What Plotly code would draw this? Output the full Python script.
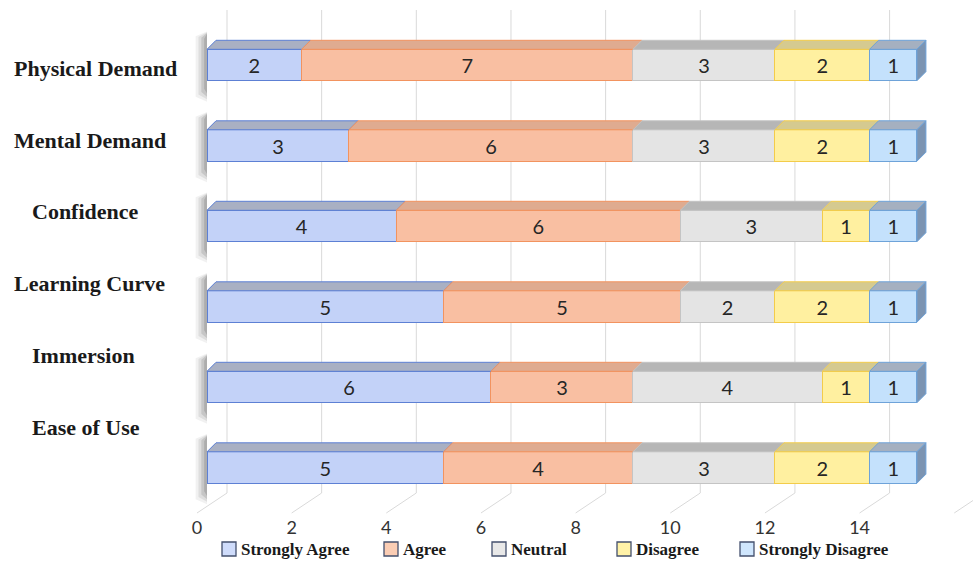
import plotly.graph_objects as go

# ---------------- data ----------------
categories = ["Physical Demand", "Mental Demand", "Confidence",
              "Learning Curve", "Immersion", "Ease of Use"]
series_names = ["Strongly Agree", "Agree", "Neutral", "Disagree", "Strongly Disagree"]
strongly_agree = [2, 3, 4, 5, 6, 5]
agree = [7, 6, 6, 5, 3, 4]
neutral = [3, 3, 3, 2, 4, 3]
disagree = [2, 2, 1, 2, 1, 2]
strongly_disagree = [1, 1, 1, 1, 1, 1]
tick_values = [0, 2, 4, 6, 8, 10, 12, 14]
tick_labels = ["0", "2", "4", "6", "8", "10", "12", "14"]

series_values = [strongly_agree, agree, neutral, disagree, strongly_disagree]

# ---------------- styles ----------------
W, H = 973, 561
front_fill = ["#c3d2f8", "#f9bfa2", "#e4e4e4", "#fff0a0", "#c4e1fc"]
legend_fill = ["#cfdcfb", "#fbcdb4", "#e8e8e8", "#fff2a8", "#cfe6fd"]
edge_col = ["#5d80d4", "#f2935f", "#c4c4c4", "#f3cc4a", "#6ea3d9"]
top_fill = ["#a9b0c3", "#dfab90", "#b6b6b6", "#d5ca90", "#a5b0c0"]
side_fill = "#7c94b2"
legend_box_x = [222, 384, 492, 617, 740]   # pixel positions of legend swatches

x_lo, x_hi = -4.3737, 16.185
y_lo, y_hi = -1.1615, 5.8075
px_per_x = W / (x_hi - x_lo)
px_per_y = H / (y_hi - y_lo)
bar_w = 0.39
dx = 9 / px_per_x
dy = 9 / px_per_y
grid_dx = 20 / px_per_x
floor_dx = 30 / px_per_x
grid_top = (467.5 - 10) / px_per_y
grid_bot = (467.5 - 493) / px_per_y
floor_front = (467.5 - 513) / px_per_y

n = len(categories)
ypos = [n - 1 - i for i in range(n)]

fig = go.Figure()

# left drop shadows (soft, layered)
for width, alpha, ext in [(0.24, 0.07, 0.10), (0.18, 0.10, 0.07), (0.12, 0.14, 0.04), (0.06, 0.18, 0.0)]:
    sx, sy = [], []
    for y in ypos:
        t = y + bar_w / 2 + dy + 0.08 + ext * 0.3
        b = y - bar_w / 2 - 0.16 - ext
        sx += [-width, 0, 0, -width, -width, None]
        sy += [t - 0.06, t, b, b + 0.06, t - 0.06, None]
    fig.add_trace(go.Scatter(x=sx, y=sy, fill="toself", mode="lines",
                             line=dict(width=0), fillcolor=f"rgba(60,60,60,{alpha})",
                             hoverinfo="skip", showlegend=False))

# front faces (bars)
for k, (name, vals) in enumerate(zip(series_names, series_values)):
    fig.add_trace(go.Bar(
        y=ypos, x=vals, name=name, orientation="h", width=bar_w,
        marker=dict(color=front_fill[k], line=dict(color=edge_col[k], width=1)),
        text=[str(v) for v in vals], textposition="inside",
        insidetextanchor="middle", constraintext="none",
        textfont=dict(family="Lato", size=20, color="#262626"),
        showlegend=False,
    ))

# top faces
cum = [0] * n
for k, vals in enumerate(series_values):
    tx, ty = [], []
    for i, y in enumerate(ypos):
        x0, x1 = cum[i], cum[i] + vals[i]
        t = y + bar_w / 2
        tx += [x0, x1, x1 + dx, x0 + dx, x0, None]
        ty += [t, t, t + dy, t + dy, t, None]
    fig.add_trace(go.Scatter(x=tx, y=ty, fill="toself", mode="lines",
                             line=dict(color=edge_col[k], width=1),
                             fillcolor=top_fill[k], hoverinfo="skip", showlegend=False))
    cum = [c + v for c, v in zip(cum, vals)]

# right end faces
sx, sy = [], []
for i, y in enumerate(ypos):
    x1 = cum[i]
    t, b = y + bar_w / 2, y - bar_w / 2
    sx += [x1, x1 + dx, x1 + dx, x1, x1, None]
    sy += [t, t + dy, b + dy, b, t, None]
fig.add_trace(go.Scatter(x=sx, y=sy, fill="toself", mode="lines",
                         line=dict(color=edge_col[-1], width=1),
                         fillcolor=side_fill, hoverinfo="skip", showlegend=False))

# back-wall gridlines and floor lines
shapes = []
for v in tick_values + [16]:
    bx = v + grid_dx
    shapes.append(dict(type="line", xref="x", yref="y", x0=bx, x1=bx,
                       y0=grid_bot, y1=grid_top, line=dict(color="#d9d9d9", width=1),
                       layer="below"))
    shapes.append(dict(type="line", xref="x", yref="y", x0=bx, x1=bx - floor_dx,
                       y0=grid_bot, y1=floor_front, line=dict(color="#d9d9d9", width=1),
                       layer="below"))

# category labels
annotations = []
for i, c in enumerate(categories):
    px = 68.5 + 71.7 * i
    indent = 0 if c in ("Physical Demand", "Mental Demand", "Learning Curve") else 18
    annotations.append(dict(text="<b>" + c + "</b>", xref="paper", yref="paper",
                            x=12 / W, xshift=indent, y=1 - px / H,
                            xanchor="left", yanchor="middle", showarrow=False,
                            font=dict(family="Liberation Serif", size=22, color="#1a1a1a")))

# legend (swatches + labels)
ly = 549
for k, name in enumerate(series_names):
    x0 = legend_box_x[k]
    shapes.append(dict(type="rect", xref="paper", yref="paper",
                       x0=x0 / W, x1=(x0 + 14) / W, y0=1 - (ly + 7) / H, y1=1 - (ly - 7) / H,
                       fillcolor=legend_fill[k], line=dict(color="#44506e", width=1.3)))
    annotations.append(dict(text="<b>" + name + "</b>", xref="paper", yref="paper",
                            x=(x0 + 17) / W, y=1 - ly / H, xanchor="left", yanchor="middle",
                            showarrow=False,
                            font=dict(family="Liberation Serif", size=17, color="#1a1a1a")))

fig.update_layout(
    width=W, height=H, barmode="stack",
    margin=dict(l=0, r=0, t=0, b=0, pad=0),
    paper_bgcolor="white", plot_bgcolor="white",
    xaxis=dict(range=[x_lo, x_hi], anchor="free", position=1 - 513 / H,
               tickvals=tick_values, ticktext=tick_labels, showgrid=False,
               zeroline=False, showline=False, ticks="", ticklabelshift=-10,
               ticklabelstandoff=2,
               tickfont=dict(family="Lato", size=18, color="#333333")),
    yaxis=dict(range=[y_lo, y_hi], visible=False),
    shapes=shapes, annotations=annotations,
    showlegend=False,
)

fig.write_html("out.html")
